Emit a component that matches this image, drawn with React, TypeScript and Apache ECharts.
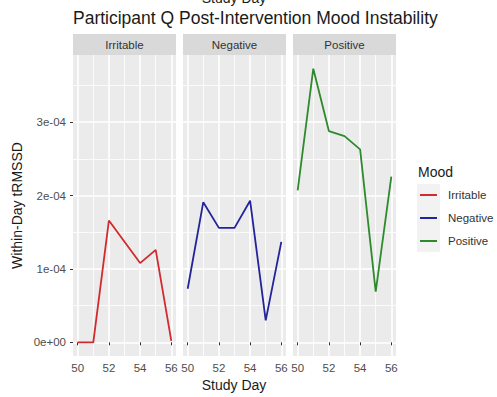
import React, { useEffect, useRef } from 'react';
import * as echarts from 'echarts';

const days = [50, 51, 52, 53, 54, 55, 56];
const moods = ['Irritable', 'Negative', 'Positive'];
const irritable = [0, 0, 0.000166, 0.000137, 0.000108, 0.000126, 0.000002];
const negative = [0.000073, 0.000191, 0.000156, 0.000156, 0.000193, 0.00003, 0.000137];
const positive = [0.000207, 0.000373, 0.000288, 0.000281, 0.000263, 0.000069, 0.000226];
const seriesValues = [irritable, negative, positive];

const xTickValues = [50, 52, 54, 56];
const xMinorValues = [51, 53, 55];
const yTickValues = [0, 0.0001, 0.0002, 0.0003];
const yTickLabels = ['0e+00', '1e-04', '2e-04', '3e-04'];
const yMinorValues = [0.00005, 0.00015, 0.00025, 0.00035];

const colors = ['#d12a2f', '#23239b', '#2d8a2d'];
const FONT = '"Liberation Sans", Arial, sans-serif';

const panelLefts = [73, 183, 293];
const panelWidth = 103;
const panelTop = 55;
const panelBottom = 356;
const X_MIN = 49.7;
const X_MAX = 56.3;

export default function App() {
  const ref = useRef<HTMLDivElement>(null);
  useEffect(() => {
    document.body.style.margin = '0';
    if (!ref.current) return;
    const chart = echarts.init(ref.current, undefined, { renderer: 'svg' });

    const dataMax = Math.max(...irritable, ...negative, ...positive);
    const dataMin = Math.min(...irritable, ...negative, ...positive);
    const pad = (dataMax - dataMin) * 0.05;
    const Y_MIN = dataMin - pad;
    const Y_MAX = dataMax + pad;

    const grids = panelLefts.map((l) => ({
      left: l,
      width: panelWidth,
      top: panelTop,
      height: panelBottom - panelTop,
      show: true,
      z: 0,
      backgroundColor: '#ebebeb',
      borderWidth: 0,
    }));

    const xAxes: any[] = [];
    const yAxes: any[] = [];
    panelLefts.forEach((_, i) => {
      xAxes.push({
        type: 'value',
        gridIndex: i,
        z: 5,
        position: 'bottom',
        min: X_MIN,
        max: X_MAX,
        axisLine: { show: false },
        splitLine: { show: true, lineStyle: { color: '#ffffff', width: 1.6 } },
        axisTick: {
          show: true,
          customValues: xTickValues,
          length: 3,
          lineStyle: { color: '#333', width: 1 },
        },
        axisLabel: {
          customValues: xTickValues,
          margin: 6,
          fontSize: 11.5,
          color: '#4d4d4d',
          fontFamily: FONT,
        },
      });
      xAxes.push({
        type: 'value',
        gridIndex: i,
        z: 5,
        position: 'top',
        min: X_MIN,
        max: X_MAX,
        axisLine: { show: false },
        splitLine: { show: true, lineStyle: { color: '#ffffff', width: 0.8 } },
        axisTick: { show: false, customValues: xMinorValues },
        axisLabel: { show: false, customValues: xMinorValues },
      });
      yAxes.push({
        type: 'value',
        gridIndex: i,
        z: 5,
        position: 'left',
        min: Y_MIN,
        max: Y_MAX,
        axisLine: { show: false },
        splitLine: { show: true, lineStyle: { color: '#ffffff', width: 1.6 } },
        axisTick: {
          show: i === 0,
          customValues: yTickValues,
          length: 3,
          lineStyle: { color: '#333', width: 1 },
        },
        axisLabel: {
          show: i === 0,
          customValues: yTickValues,
          margin: 7,
          fontSize: 11.5,
          color: '#4d4d4d',
          fontFamily: FONT,
          formatter: (v: number) => {
            const idx = yTickValues.findIndex((t) => Math.abs(t - v) < 1e-9);
            return idx >= 0 ? yTickLabels[idx] : '';
          },
        },
      });
      yAxes.push({
        type: 'value',
        gridIndex: i,
        z: 5,
        position: 'right',
        min: Y_MIN,
        max: Y_MAX,
        axisLine: { show: false },
        splitLine: { show: true, lineStyle: { color: '#ffffff', width: 0.8 } },
        axisTick: { show: false, customValues: yMinorValues },
        axisLabel: { show: false, customValues: yMinorValues },
      });
    });

    const series = moods.map((m, i) => ({
      name: m,
      type: 'line',
      xAxisIndex: i * 2,
      yAxisIndex: i * 2,
      z: 10,
      symbol: 'none',
      data: days.map((d, j) => [d, seriesValues[i][j]]),
      lineStyle: { color: colors[i], width: 1.8 },
      itemStyle: { color: colors[i] },
    }));

    const graphics: any[] = [];
    moods.forEach((m, i) => {
      graphics.push({
        type: 'rect',
        shape: { x: panelLefts[i], y: 34, width: panelWidth, height: 21 },
        style: { fill: '#d9d9d9' },
      });
      graphics.push({
        type: 'text',
        x: panelLefts[i] + panelWidth / 2,
        y: 45,
        style: {
          text: m,
          align: 'center',
          verticalAlign: 'middle',
          fontSize: 11.5,
          fontFamily: FONT,
          fill: '#333333',
        },
      });
    });
    graphics.push({
      type: 'text',
      x: 73,
      y: 18,
      style: {
        text: 'Participant Q Post-Intervention Mood Instability',
        align: 'left',
        verticalAlign: 'middle',
        fontSize: 17.5,
        fontFamily: FONT,
        fill: '#1a1a1a',
      },
    });
    graphics.push({
      type: 'text',
      x: 234,
      y: 5,
      style: {
        text: 'Study Day',
        align: 'center',
        verticalAlign: 'bottom',
        fontSize: 14,
        fontFamily: FONT,
        fill: '#1a1a1a',
      },
    });
    graphics.push({
      type: 'text',
      x: 234,
      y: 385,
      style: {
        text: 'Study Day',
        align: 'center',
        verticalAlign: 'middle',
        fontSize: 14,
        fontFamily: FONT,
        fill: '#1a1a1a',
      },
    });
    graphics.push({
      type: 'text',
      x: 17,
      y: (panelTop + panelBottom) / 2,
      rotation: Math.PI / 2,
      style: {
        text: 'Within-Day tRMSSD',
        align: 'center',
        verticalAlign: 'middle',
        fontSize: 14,
        fontFamily: FONT,
        fill: '#1a1a1a',
      },
    });
    graphics.push({
      type: 'text',
      x: 418,
      y: 172,
      style: {
        text: 'Mood',
        align: 'left',
        verticalAlign: 'middle',
        fontSize: 14,
        fontFamily: FONT,
        fill: '#1a1a1a',
      },
    });
    graphics.push({
      type: 'rect',
      shape: { x: 417, y: 184, width: 23, height: 68 },
      style: { fill: '#f2f2f2' },
    });

    chart.setOption({
      animation: false,
      grid: grids,
      xAxis: xAxes,
      yAxis: yAxes,
      series,
      legend: {
        data: moods,
        orient: 'vertical',
        left: 420,
        top: 188,
        padding: 0,
        icon: 'rect',
        itemWidth: 17,
        itemHeight: 2,
        itemGap: 9,
        selectedMode: false,
        textStyle: {
          fontSize: 11.5,
          lineHeight: 14,
          color: '#333333',
          fontFamily: FONT,
          padding: [0, 0, 0, 6],
        },
      },
      graphic: graphics,
    });

    return () => chart.dispose();
  }, []);
  return <div ref={ref} style={{ width: 497, height: 397 }} />;
}
